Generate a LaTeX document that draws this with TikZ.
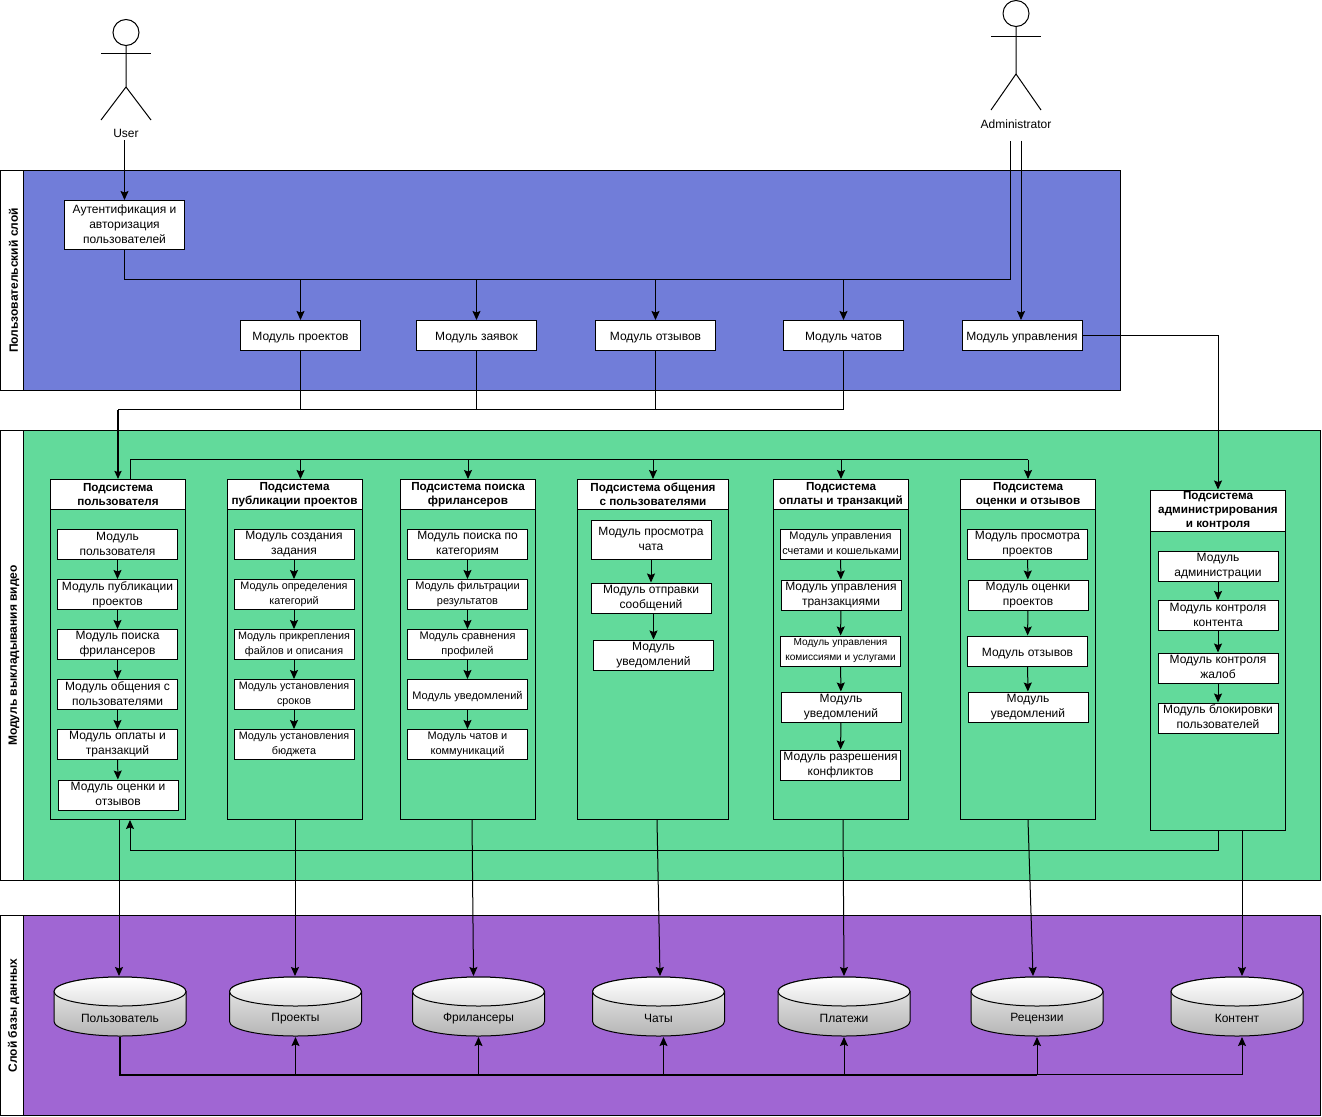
\documentclass[tikz,border=0pt]{standalone}
\usepackage{fontspec}
\setmainfont{Liberation Sans}
\usetikzlibrary{arrows.meta}
\definecolor{userblue}{HTML}{717DD9}
\definecolor{modgreen}{HTML}{62DA9B}
\definecolor{basepurple}{HTML}{A066D3}

\begin{document}
\begin{tikzpicture}[x=1pt,y=-1pt,line width=1pt,shift={(0,-.5)},
   striptitle/.style={draw,fill=white,rotate=90,minimum width=#1,minimum height=23pt,inner sep=0pt,font=\fontsize{12}{14}\selectfont\bfseries,
      execute at begin node={\rule{0pt}{12pt}}},
   module/.style={draw,fill=white,minimum width=120pt,minimum height=30pt,inner sep=0pt,align=center,font=\fontsize{12}{15}\selectfont,
      execute at begin node={\rule{0pt}{13pt}},execute at end node={\rule[-2pt]{0pt}{2pt}}},
   midfont/.style={font=\fontsize{10.8}{15}\selectfont},
   smallfont/.style={font=\fontsize{11}{15}\selectfont},
   tinyfont/.style={font=\fontsize{10.1}{15}\selectfont},
   subhead/.style={draw,fill=white,minimum width=#1,minimum height=30pt,inner sep=0pt,align=center,font=\fontsize{11.7}{14}\selectfont\bfseries,
      execute at begin node={\rule{0pt}{13pt}},execute at end node={\rule[-1pt]{0pt}{1pt}}},
   subbody/.style={draw,minimum width=#1,inner sep=0pt},
   store/.style={minimum width=133pt,minimum height=60pt,inner sep=0pt,
      path picture={
         \draw[top color=black!6,bottom color=black!29] (path picture bounding box.center) ++(-66,-15) arc[start angle=180,end angle=0,x radius=66pt,y radius=14.5pt] -- ++(0,30) arc[start angle=0,end angle=-180,x radius=66pt,y radius=14.5pt] -- cycle;
         \draw[top color=white,bottom color=black!12] (path picture bounding box.center) ++(-66,-15) arc[start angle=180,end angle=-180,x radius=66pt,y radius=14.5pt];},
      label={[storename]center:#1}},
   storename/.style={yshift=-12pt,inner sep=0pt,font=\fontsize{12}{14}\selectfont},
   actorname/.style={inner sep=0pt,font=\fontsize{12}{14}\selectfont},
   link/.style={-{Stealth[length=9pt,width=8pt,inset=1.5pt]}},
   boldlink/.style={line width=2pt},
   boldarrow/.style={line width=2pt,-{Stealth[length=8pt,width=7pt,inset=1pt]}}]
\useasboundingbox (0,0.5) rectangle (1322,1116.5);

\node[draw,fill=userblue,minimum width=1097pt,minimum height=220pt,inner sep=0pt] (userlayer) at (572,281) {};
\node[striptitle=220pt] (usertitle) at (12,281) {Пользовательский слой};
\node[draw,fill=modgreen,minimum width=1297pt,minimum height=450pt,inner sep=0pt] (modlayer) at (672,656) {};
\node[striptitle=450pt] (modtitle) at (12,656) {Модуль выкладывания видео};
\node[draw,fill=basepurple,minimum width=1297pt,minimum height=200pt,inner sep=0pt] (baselayer) at (672,1016) {};
\node[striptitle=200pt] (basetitle) at (12,1016) {Слой базы данных};

\node[draw,circle,minimum size=26pt,inner sep=0pt] (userhead) at (126,33) {};
\draw (userhead.south) -- ++(0,41) coordinate (userhip) -- ++(-25,33);
\draw (userhip) -- ++(25,33);
\draw ([xshift=-25pt,yshift=-8pt]userhead.south) -- ++(50,0);
\node[actorname] (username) at (126,134) {User};
\node[draw,circle,minimum size=26pt,inner sep=0pt] (adminhead) at (1016,14) {};
\draw (adminhead.south) -- ++(0,47) coordinate (adminhip) -- ++(-25,36);
\draw (adminhip) -- ++(25,36);
\draw ([xshift=-25pt,yshift=-10pt]adminhead.south) -- ++(50,0);
\node[actorname] (adminname) at (1016,125) {Administrator};
\coordinate (adminleft) at (1010,141);
\coordinate (adminright) at (1021,141);

\node[module,minimum height=49pt] (auth) at (124.5,225.5) {Аутентификация и\\авторизация\\пользователей};
\node[module] (mproj) at (300.5,336) {Модуль проектов};
\node[module] (mreq) at (476.5,336) {Модуль заявок};
\node[module] (mrev) at (655.5,336) {Модуль отзывов};
\node[module] (mchat) at (843.5,336) {Модуль чатов};
\node[module] (mctl) at (1022,336) {Модуль управления};

\node[subbody=135pt,minimum height=340pt] (b1) at (118,650) {};
\node[subhead=135pt] (h1) at (118,495) {Подсистема\\пользователя};
\node[module] (a1) at (117.5,545) {Модуль\\пользователя};
\node[module] (a2) at (117.5,595) {Модуль публикации\\проектов};
\node[module] (a3) at (117.5,645) {Модуль поиска\\фрилансеров};
\node[module] (a4) at (117.5,695) {Модуль общения с\\пользователями};
\node[module] (a5) at (117.5,745) {Модуль оплаты и\\транзакций};
\node[module] (a6) at (118,795.5) {Модуль оценки и\\отзывов};

\node[subbody=135pt,minimum height=340pt] (b2) at (294.5,650) {};
\node[subhead=135pt] (h2) at (294.5,495) {Подсистема\\публикации проектов};
\node[module] (c1) at (294,545) {Модуль создания\\задания};
\node[module,midfont] (c2) at (294,595) {Модуль определения\\категорий};
\node[module,midfont] (c3) at (294,645) {Модуль прикрепления\\файлов и описания};
\node[module,midfont] (c4) at (294,695) {Модуль установления\\сроков};
\node[module,midfont] (c5) at (294,745) {Модуль установления\\бюджета};

\node[subbody=135pt,minimum height=340pt] (b3) at (468,650) {};
\node[subhead=135pt] (h3) at (468,495) {Подсистема поиска\\фрилансеров};
\node[module] (d1) at (467.5,545) {Модуль поиска по\\категориям};
\node[module,smallfont] (d2) at (467.5,595) {Модуль фильтрации\\результатов};
\node[module,smallfont] (d3) at (467.5,645) {Модуль сравнения\\профилей};
\node[module,smallfont] (d4) at (467.5,695) {Модуль уведомлений};
\node[module,smallfont] (d5) at (467.5,745) {Модуль чатов и\\коммуникаций};

\node[subbody=151pt,minimum height=340pt] (b4) at (653,650) {};
\node[subhead=151pt] (h4) at (653,495) {Подсистема общения\\с пользователями};
\node[module,minimum height=39pt] (e1) at (651,540.5) {Модуль просмотра\\чата};
\node[module] (e2) at (651,598.5) {Модуль отправки\\сообщений};
\node[module] (e3) at (653.5,655.5) {Модуль\\уведомлений};

\node[subbody=135pt,minimum height=340pt] (b5) at (841,650) {};
\node[subhead=135pt] (h5) at (841,495) {Подсистема\\оплаты и транзакций};
\node[module,smallfont] (f1) at (840.5,544.5) {Модуль управления\\счетами и кошельками};
\node[module] (f2) at (841,595.5) {Модуль управления\\транзакциями};
\node[module,tinyfont] (f3) at (840.5,651.5) {Модуль управления\\комиссиями и услугами};
\node[module] (f4) at (841,707.5) {Модуль\\уведомлений};
\node[module] (f5) at (840.5,765.5) {Модуль разрешения\\конфликтов};

\node[subbody=135pt,minimum height=340pt] (b6) at (1028,650) {};
\node[subhead=135pt] (h6) at (1028,495) {Подсистема\\оценки и отзывов};
\node[module] (g1) at (1027.5,544.5) {Модуль просмотра\\проектов};
\node[module] (g2) at (1028,595.5) {Модуль оценки\\проектов};
\node[module] (g3) at (1027.5,651.5) {Модуль отзывов};
\node[module] (g4) at (1028,707.5) {Модуль\\уведомлений};

\node[subbody=135pt,minimum height=340pt] (b7) at (1218,661) {};
\node[subhead=135pt,minimum height=41pt] (h7) at (1218,511) {Подсистема\\администрирования\\и контроля};
\node[module] (k1) at (1218,566.5) {Модуль\\администрации};
\node[module] (k2) at (1218,616) {Модуль контроля\\контента};
\node[module] (k3) at (1218,668.5) {Модуль контроля\\жалоб};
\node[module] (k4) at (1218,718.5) {Модуль блокировки\\пользователей};

\node[store=Пользователь] (dbuser) at (120,1007) {};
\node[store=Проекты] (dbproj) at (295.5,1007) {};
\node[store=Фрилансеры] (dbfree) at (478.5,1007) {};
\node[store=Чаты] (dbchat) at (658.5,1007) {};
\node[store=Платежи] (dbpay) at (844,1007) {};
\node[store=Рецензии] (dbrev) at (1037,1007) {};
\node[store=Контент] (dbcont) at (1237,1007) {};

\coordinate (topbus) at (0,280);
\coordinate (midbus) at (0,410);
\coordinate (innerbus) at (0,460);
\coordinate (backbus) at (0,851);
\coordinate (basebus) at (0,1075);

\draw[link] (username.south -| auth.north) ++(0,2) -- (auth.north);
\draw (auth.south) -- (auth.south |- topbus) -- (topbus -| adminleft) -- (adminleft);
\draw[link] (topbus -| mproj.north) -- (mproj.north);
\draw[link] (topbus -| mreq.north) -- (mreq.north);
\draw[link] (topbus -| mrev.north) -- (mrev.north);
\draw[link] (topbus -| mchat.north) -- (mchat.north);
\draw[link] (adminright) -- (adminright |- mctl.north);
\draw[link] (mctl.east) -- (mctl.east -| h7.north) -- (h7.north);

\draw (mproj.south) -- (mproj.south |- midbus);
\draw (mreq.south) -- (mreq.south |- midbus);
\draw (mrev.south) -- (mrev.south |- midbus);
\draw (mchat.south) -- (mchat.south |- midbus) -- (midbus -| h1.north);
\draw[boldarrow] (midbus -| h1.north) -- (h1.north);

\draw ([xshift=12pt]h1.north) -- ([xshift=12pt]h1.north |- innerbus) -- (innerbus -| h6.north);
\draw[link] (innerbus -| h2.north) ++(6,0) -- ([xshift=6pt]h2.north);
\draw[link] (innerbus -| h3.north) -- (h3.north);
\draw[link] (innerbus -| h4.north) -- (h4.north);
\draw[link] (innerbus -| h5.north) -- (h5.north);
\draw[link] (innerbus -| h6.north) -- (h6.north);

\draw[link] (a1) -- (a2);
\draw[link] (a2) -- (a3);
\draw[link] (a3) -- (a4);
\draw[link] (a4) -- (a5);
\draw[link] (a5) -- (a6);
\draw[link] (c1) -- (c2);
\draw[link] (c2) -- (c3);
\draw[link] (c3) -- (c4);
\draw[link] (c4) -- (c5);
\draw[link] (d1) -- (d2);
\draw[link] (d2) -- (d3);
\draw[link] (d3) -- (d4);
\draw[link] (d4) -- (d5);
\draw[link] (e1) -- (e2);
\draw[link] (e2.south -| e3.north) -- (e3.north);
\draw[link] (f1) -- (f2);
\draw[link] (f2) -- (f3);
\draw[link] (f3) -- (f4);
\draw[link] (f4) -- (f5);
\draw[link] (g1) -- (g2);
\draw[link] (g2) -- (g3);
\draw[link] (g3) -- (g4);
\draw[link] (k1) -- (k2);
\draw[link] (k2) -- (k3);
\draw[link] (k3) -- (k4);

\draw[link] (b7.south) -- (b7.south |- backbus) -- ([xshift=12pt]b1.south |- backbus) -- ([xshift=12pt]b1.south);

\draw[link] ([xshift=1pt]b1.south) -- ([xshift=-1pt]dbuser.north);
\draw[link] ([xshift=.5pt]b2.south) -- ([xshift=-.5pt]dbproj.north);
\draw[link] ([xshift=4pt]b3.south) -- ([xshift=-5pt]dbfree.north);
\draw[link] ([xshift=4pt]b4.south) -- ([xshift=1.5pt]dbchat.north);
\draw[link] ([xshift=2pt]b5.south) -- (dbpay.north);
\draw[link] (b6.south) -- ([xshift=-4pt]dbrev.north);
\draw[link] ([xshift=24pt]b7.south) -- ([xshift=5pt]dbcont.north);

\draw[boldlink] (dbuser.south) -- (dbuser.south |- basebus) -- (basebus -| dbrev.south);
\draw[link] (basebus -| dbproj.south) -- (dbproj.south);
\draw[link] (basebus -| dbfree.south) -- (dbfree.south);
\draw[link] ([xshift=5pt]basebus -| dbchat.south) -- ([xshift=5pt]dbchat.south);
\draw[link] (basebus -| dbpay.south) -- (dbpay.south);
\draw[link] (basebus -| dbrev.south) -- (dbrev.south);
\draw[link] (basebus -| dbrev.south) -- ([xshift=5pt]basebus -| dbcont.south) -- ([xshift=5pt]dbcont.south);
\end{tikzpicture}
\end{document}
